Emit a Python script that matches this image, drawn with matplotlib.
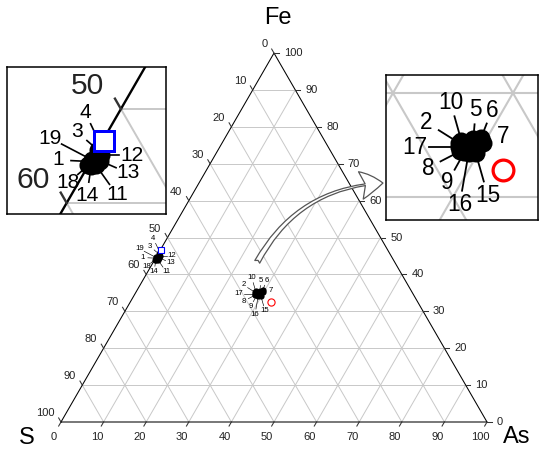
import numpy as np
import matplotlib.pyplot as plt
from matplotlib.patches import ConnectionPatch, ArrowStyle

plt.rcParams['font.family'] = ['Liberation Sans', 'DejaVu Sans']

# compositions in wt%: Fe and As, S is the rest
sample_ids = ['1', '2', '3', '4', '5', '6', '7', '8', '9', '10',
              '11', '12', '13', '14', '15', '16', '17', '18', '19']
fe_pct = [44.4, 35.2, 45.6, 46.0, 35.6, 35.7, 35.2, 34.4, 34.3, 35.4,
          44.0, 45.1, 44.5, 43.9, 34.2, 34.2, 34.8, 44.0, 44.6]
as_pct = [0.1, 27.9, 0.1, 0.2, 28.9, 29.5, 29.9, 28.4, 28.8, 28.0,
          0.7, 0.6, 0.8, 0.3, 29.8, 29.2, 28.1, 0.0, 0.0]

# reference compositions
pyrite_fe, pyrite_as = 46.6, 0.1          # blue square
arsenopyrite_fe, arsenopyrite_as = 32.6, 32.9   # red circle

tick_values = np.arange(0, 101, 10)

# label offsets from each point (in 1/1000 of the triangle side)
label_offsets = {
    '1': (-31.0, 1.5), '3': (-19.4, 16.9), '4': (-15.1, 31.8),
    '11': (19.4, -27.3), '12': (28.7, 0.0), '13': (26.0, -11.3),
    '14': (-3.8, -26.5), '18': (-18.8, -16.2), '19': (-38.3, 20.0),
    '2': (-27, 17), '5': (2, 24), '6': (9, 23), '7': (17, 5),
    '8': (-27, -14), '9': (-14, -25), '10': (-9, 32), '15': (10, -35),
    '16': (-7.5, -43), '17': (-37, 0),
}

H = np.sqrt(3) / 2


def to_xy(fe, as_):
    fe = np.asarray(fe, dtype=float) / 100
    a = np.asarray(as_, dtype=float) / 100
    return a + fe / 2, fe * H


def draw_ternary(ax, ts, lw_edge, lw_grid, lw_lead, ms, clip):
    # grid lines every 10 %
    for v in tick_values[1:-1]:
        for (f0, a0), (f1, a1) in [((v, 0), (v, 100 - v)),
                                   ((0, v), (100 - v, v)),
                                   ((100 - v, 0), (0, 100 - v))]:
            x0, y0 = to_xy(f0, a0)
            x1, y1 = to_xy(f1, a1)
            ax.plot([x0, x1], [y0, y1], color='#c8c8c8', lw=lw_grid, zorder=1)

    # triangle outline
    vx, vy = to_xy([0, 0, 100, 0], [0, 100, 0, 0])
    ax.plot(vx, vy, color='black', lw=lw_edge, zorder=2)

    tl = 0.011
    tfs = 8 * ts
    for v in tick_values:
        # Fe on the right edge
        x, y = to_xy(v, 100 - v)
        ax.plot([x, x + tl], [y, y], color='#333333', lw=lw_edge, zorder=2)
        ax.text(x + 0.023, y, str(v), fontsize=tfs, ha='left', va='center',
                color='#222222', clip_on=clip)
        # S on the left edge
        x, y = to_xy(100 - v, 0)
        ax.plot([x, x - 0.5 * tl], [y, y + H * tl], color='#333333',
                lw=lw_edge, zorder=2)
        ax.text(x - 0.0155, y + 0.021, str(v), fontsize=tfs, ha='right',
                va='center', color='#222222', clip_on=clip)
        # As on the bottom edge
        x, y = to_xy(0, v)
        ax.plot([x, x - 0.5 * tl], [y, y - H * tl], color='#333333',
                lw=lw_edge, zorder=2)
        ax.text(x - 0.016, y - 0.035, str(v), fontsize=tfs, ha='center',
                va='center', color='#222222', clip_on=clip)

    # samples
    sx, sy = to_xy(fe_pct, as_pct)
    ax.plot(sx, sy, 'o', color='black', ms=ms, mew=0, zorder=3)

    r0, r1 = 0.006, 0.012
    for sid, x, y in zip(sample_ids, sx, sy):
        dx, dy = np.array(label_offsets[sid]) / 1000
        d = np.hypot(dx, dy)
        ux, uy = dx / d, dy / d
        ax.plot([x + ux * r0, x + dx - ux * r1], [y + uy * r0, y + dy - uy * r1],
                color='black', lw=lw_lead, zorder=3)
        ax.text(x + dx, y + dy, sid, fontsize=5.6 * ts, ha='center',
                va='center', color='black', clip_on=clip, zorder=4)

    px, py = to_xy(pyrite_fe, pyrite_as)
    ax.plot(px, py, 's', mfc='white', mec='#0000ff', ms=ms * 1.07,
            mew=0.8 * ts, zorder=5)
    rx, ry = to_xy(arsenopyrite_fe, arsenopyrite_as)
    ax.plot(rx, ry, 'o', mfc='none', mec='#ff0000', ms=ms * 1.15,
            mew=0.8 * ts, zorder=5)


fig = plt.figure(figsize=(5.39, 4.49), dpi=100)
fig.patch.set_facecolor('white')

ax = fig.add_axes([0, 0, 1, 1])
ax.set_xlim(-61 / 426, 478 / 426)
ax.set_ylim(-27 / 426, 422 / 426)
ax.axis('off')
draw_ternary(ax, 1.0, 0.75, 0.7, 0.45, 4.5, False)

ax.text(0.509, 0.948, 'Fe', fontsize=17, ha='center', va='center')
ax.text(-0.08, -0.037, 'S', fontsize=17, ha='center', va='center')
ax.text(1.07, -0.036, 'As', fontsize=17, ha='center', va='center')

# zoomed views of the two clusters
ax_l = fig.add_axes([7 / 539, (449 - 214) / 449, 159 / 539, 147 / 449])
ax_l.set_xlim(0.145, 0.145 + 159 / 1085)
ax_l.set_ylim(0.4717 - 147 / 1085, 0.4717)
draw_ternary(ax_l, 2.7, 1.7, 1.4, 1.2, 13, True)

ax_r = fig.add_axes([386 / 539, (449 - 220) / 449, 152 / 539, 145 / 449])
ax_r.set_xlim(0.3942, 0.3942 + 152 / 1200)
ax_r.set_ylim(0.2406, 0.2406 + 145 / 1200)
draw_ternary(ax_r, 2.9, 1.7, 1.5, 1.3, 13, True)

for a in (ax_l, ax_r):
    a.set_xticks([])
    a.set_yticks([])
    a.set_facecolor('white')
    for s in a.spines.values():
        s.set_linewidth(1.1)
        s.set_color('black')

# curved arrow from the right cluster to its zoomed view
cx, cy = to_xy(np.mean(fe_pct[4:10]), np.mean(as_pct[4:10]))
arrow = ConnectionPatch(xyA=(cx - 0.004, cy + 0.072), coordsA=ax.transData,
                        xyB=(-0.02, 0.255), coordsB=ax_r.transAxes,
                        arrowstyle=ArrowStyle.Fancy(head_length=0.8, head_width=1.0,
                                                    tail_width=0.2),
                        mutation_scale=20, connectionstyle='arc3,rad=-0.28',
                        fc='white', ec='#555555', lw=0.9)
fig.add_artist(arrow)

fig.savefig('out.png', dpi=100)
